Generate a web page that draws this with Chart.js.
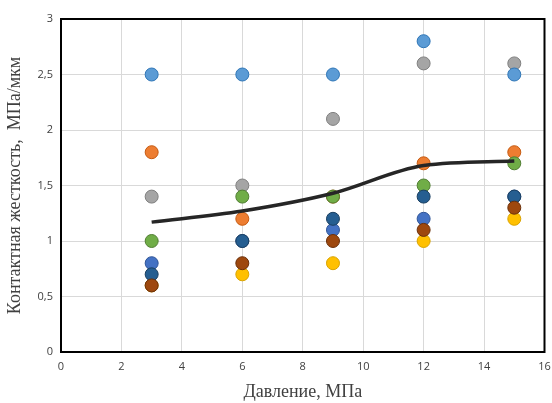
<!DOCTYPE html>
<html>
<head>
<meta charset="utf-8">
<script src="https://cdn.jsdelivr.net/npm/chart.js@4"></script>
<style>
  html, body { margin: 0; padding: 0; background: #fff; }
  #wrap { width: 552px; height: 403px; }
</style>
</head>
<body>
<div id="wrap"><canvas id="c"></canvas></div>
<script>
// pressure values (MPa)
const pressures = [3, 6, 9, 12, 15];

// contact stiffness per sample series (MPa/µm)
const s1 = [0.8, 1.0, 1.1, 1.2, 1.4];
const s2 = [1.8, 1.2, 1.4, 1.7, 1.8];
const s3 = [1.4, 1.5, 2.1, 2.6, 2.6];
const s4 = [0.6, 0.7, 0.8, 1.0, 1.2];
const s5 = [2.5, 2.5, 2.5, 2.8, 2.5];
const s6 = [1.0, 1.4, 1.4, 1.5, 1.7];
const s7 = [0.7, 1.0, 1.2, 1.4, 1.4];
const s8 = [0.6, 0.8, 1.0, 1.1, 1.3];

// averaged trend
const trend = [1.17, 1.27, 1.43, 1.68, 1.72];

const xTicks = [0, 2, 4, 6, 8, 10, 12, 14, 16];

const series = [
  { data: s1, fill: '#4472C4', edge: '#2F5597' },
  { data: s2, fill: '#ED7D31', edge: '#C55A11' },
  { data: s3, fill: '#A5A5A5', edge: '#7F7F7F' },
  { data: s4, fill: '#FFC000', edge: '#D9A300' },
  { data: s5, fill: '#5B9BD5', edge: '#2E75B6' },
  { data: s6, fill: '#70AD47', edge: '#507E32' },
  { data: s7, fill: '#255E91', edge: '#1A3F60' },
  { data: s8, fill: '#9E480E', edge: '#6B300A' }
];

const pts = arr => arr.map((v, i) => ({ x: pressures[i], y: v }));

// later series drawn on top (lower order = on top in Chart.js)
const datasets = series.map((s, i) => ({
  type: 'scatter',
  data: pts(s.data),
  backgroundColor: s.fill,
  borderColor: s.edge,
  borderWidth: 1,
  pointRadius: 6.5,
  order: 20 - i
}));

datasets.push({
  type: 'line',
  data: pts(trend),
  borderColor: '#262626',
  borderWidth: 3.5,
  pointRadius: 0,
  cubicInterpolationMode: 'monotone',
  fill: false,
  order: 0
});

// black frame round the plot area
const frame = {
  id: 'frame',
  beforeDatasetsDraw(chart) {
    const a = chart.chartArea;
    const ctx = chart.ctx;
    ctx.save();
    ctx.strokeStyle = '#000000';
    ctx.lineWidth = 2;
    ctx.beginPath();
    ctx.rect(a.left, a.top, a.right - a.left, a.bottom - a.top);
    ctx.stroke();
    ctx.restore();
  }
};

new Chart(document.getElementById('c'), {
  type: 'scatter',
  data: { datasets },
  plugins: [frame],
  options: {
    responsive: true,
    maintainAspectRatio: false,
    animation: false,
    layout: { padding: { top: 19, right: 7, left: 2, bottom: 0 } },
    plugins: { legend: { display: false }, tooltip: { enabled: false } },
    scales: {
      x: {
        type: 'linear',
        min: 0, max: 16,
        afterBuildTicks: s => { s.ticks = xTicks.map(v => ({ value: v })); },
        afterFit: s => { s.height = 51; s.paddingRight = 0; s.paddingLeft = 0; },
        grid: { color: '#d9d9d9', lineWidth: 1, drawTicks: false },
        border: { display: true, color: '#000000', width: 2 },
        ticks: { color: '#404040', font: { family: 'Open Sans', size: 11 }, padding: 8 },
        title: {
          display: true,
          text: 'Давление, МПа',
          color: '#404040',
          font: { family: 'Liberation Serif', size: 18 },
          padding: { top: 2, bottom: 0 }
        }
      },
      y: {
        type: 'linear',
        min: 0, max: 3,
        ticks: {
          stepSize: 0.5,
          color: '#404040',
          font: { family: 'Open Sans', size: 11 },
          padding: 8,
          callback: v => String(v).replace('.', ',')
        },
        afterFit: s => { s.width = 59; },
        grid: { color: '#d9d9d9', lineWidth: 1, drawTicks: false },
        border: { display: true, color: '#000000', width: 2 },
        title: {
          display: true,
          text: 'Контактная жесткость,  МПа/мкм',
          color: '#404040',
          font: { family: 'Liberation Serif', size: 18 },
          padding: { top: 2, bottom: 0 }
        }
      }
    }
  }
});
</script>
</body>
</html>
